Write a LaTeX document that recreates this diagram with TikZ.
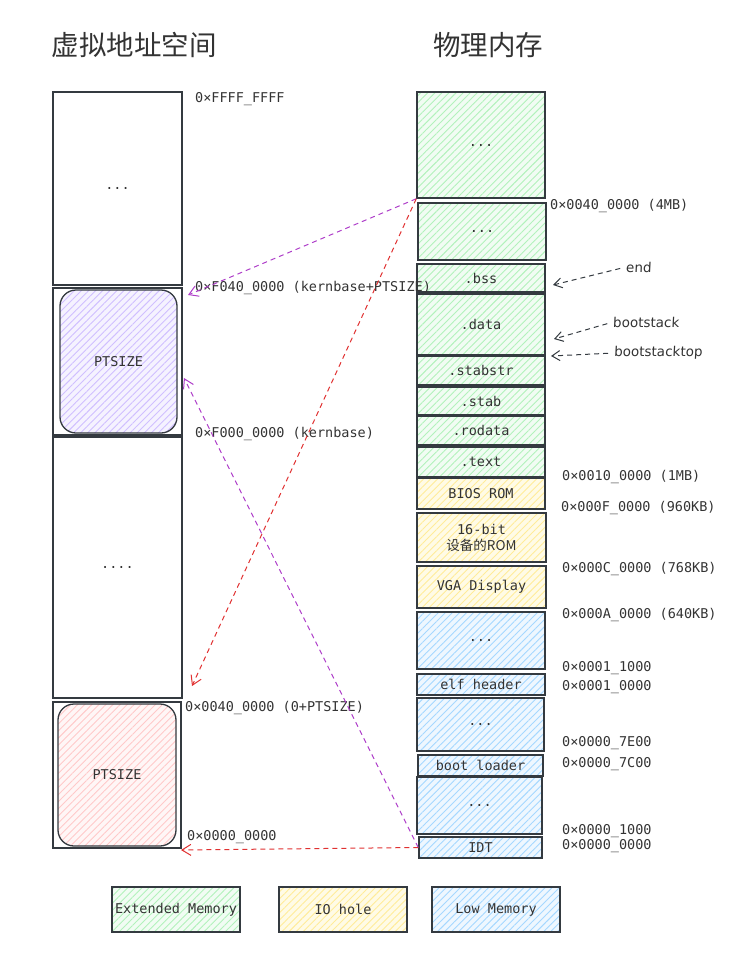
\documentclass[tikz,border=0pt]{standalone}
\usepackage{fontspec}
\setmainfont{DejaVu Sans Mono}
\newfontfamily\cjk{Noto Sans CJK SC}
\newfontfamily\handf{DejaVu Sans}
\usetikzlibrary{patterns.meta,arrows.meta}
\definecolor{linec}{HTML}{343A40}
\definecolor{txtc}{HTML}{333333}
\definecolor{extf}{HTML}{F1FCF3}
\definecolor{exth}{HTML}{B2F2BB}
\definecolor{iof}{HTML}{FFFBE6}
\definecolor{ioh}{HTML}{FFEC99}
\definecolor{lowf}{HTML}{EEF7FF}
\definecolor{lowh}{HTML}{A5D8FF}
\definecolor{purf}{HTML}{F5F2FF}
\definecolor{purh}{HTML}{D0BFFF}
\definecolor{pinkf}{HTML}{FFF6F6}
\definecolor{pinkh}{HTML}{FFC9C9}
\definecolor{purarr}{HTML}{AE3EC9}
\definecolor{redarr}{HTML}{E03131}
\newcommand{\monof}{\fontsize{13.5}{16}\selectfont}
\newcommand{\membx}[7]{\node[#2, minimum width={#5pt-#3pt}, minimum height={#6pt-#4pt}] (#1) at ({(#3+#5)/2},{(#4+#6)/2}) {#7};}
\tikzset{
  box/.style={draw=linec, line width=1.5pt, inner sep=0pt, font=\monof, text=txtc, align=center},
  hatch/.style 2 args={preaction={fill=#1}, pattern={Lines[angle=45,distance=5pt,line width=0.9pt]}, pattern color=#2},
  ext/.style={box, hatch={extf}{exth}},
  iohole/.style={box, hatch={iof}{ioh}},
  low/.style={box, hatch={lowf}{lowh}},
  plain/.style={box, fill=white},
  inner/.style={draw=linec, line width=1.3pt, rounded corners=16pt, inner sep=0pt, font=\monof, text=txtc},
  lab/.style={anchor=west, inner sep=0pt, font=\monof, text=txtc},
  ttl/.style={font=\cjk\fontsize{27.5}{30}\selectfont, text=txtc},
  parr/.style={draw=purarr, line width=1pt, dash pattern=on 5pt off 4pt, -{Straight Barb[length=9pt,width=11pt]}},
  rarr/.style={draw=redarr, line width=1pt, dash pattern=on 5pt off 4pt, -{Straight Barb[length=9pt,width=11pt]}},
  harr/.style={draw=linec, line width=1pt, dash pattern=on 5pt off 4pt, shorten <=6pt, -{Straight Barb[length=8pt,width=10pt]}},
  hand/.style={font=\handf\fontsize{13.5}{15}\selectfont, text=txtc, inner sep=0pt, anchor=west, xslant=0.05},
}
\begin{document}
\begin{tikzpicture}[x=1pt,y=-1pt]
\useasboundingbox (0,0) rectangle (744,959);
% titles
\node[ttl] (t1) at (134,45) {虚拟地址空间};
\node[ttl] (t2) at (488,45) {物理内存};
% left column
\membx{vA}{plain}{53}{92}{182}{285}{...}
\membx{vB}{plain}{53}{288}{182}{435}{}
\node[inner, hatch={purf}{purh}, minimum width=117pt, minimum height=143pt] (vBi) at (118.5,361.5) {PTSIZE};
\membx{vC}{plain}{53}{437}{182}{698}{....}
\membx{vD}{plain}{53}{702}{181}{848}{}
\node[inner, hatch={pinkf}{pinkh}, minimum width=118pt, minimum height=142pt] (vDi) at (117,775) {PTSIZE};
% right column
\membx{r1}{ext}{417}{92}{545}{198}{...}
\membx{r2}{ext}{418}{203}{546}{260}{...}
\membx{bss}{ext}{417}{264}{545}{292}{.bss}
\membx{data}{ext}{417}{294}{545}{355}{.data}
\membx{stabstr}{ext}{417}{356}{545}{385}{.stabstr}
\membx{stab}{ext}{417}{387}{545}{415}{.stab}
\membx{rodata}{ext}{417}{416}{545}{445}{.rodata}
\membx{text}{ext}{417}{447}{545}{477}{.text}
\membx{bios}{iohole}{417}{478}{545}{509}{BIOS ROM}
\membx{rom16}{iohole}{417}{513}{546}{562}{16-bit\\{\cjk 设备的ROM}}
\membx{vga}{iohole}{417}{566}{546}{608}{VGA Display}
\membx{lo1}{low}{417}{612}{545}{669}{...}
\membx{elf}{low}{417}{674}{545}{695}{elf header}
\membx{lo2}{low}{417}{698}{544}{751}{...}
\membx{boot}{low}{418}{755}{543}{776}{boot loader}
\membx{lo3}{low}{417}{777}{542}{834}{...}
\membx{idt}{low}{419}{837}{542}{858}{IDT}
% left labels
\node[lab] (l1) at (195,99) {0×FFFF\_FFFF};
\node[lab] (l2) at (195,288) {0×F040\_0000 (kernbase+PTSIZE)};
\node[lab] (l3) at (195,434) {0×F000\_0000 (kernbase)};
\node[lab] (l4) at (185,708) {0×0040\_0000 (0+PTSIZE)};
\node[lab] (l5) at (187,837) {0×0000\_0000};
% right labels
\node[lab] (p1) at (550,206) {0×0040\_0000 (4MB)};
\node[lab] (p2) at (562,477) {0×0010\_0000 (1MB)};
\node[lab] (p3) at (561,508) {0×000F\_0000 (960KB)};
\node[lab] (p4) at (562,569) {0×000C\_0000 (768KB)};
\node[lab] (p5) at (562,615) {0×000A\_0000 (640KB)};
\node[lab] (p6) at (562,668) {0×0001\_1000};
\node[lab] (p7) at (562,687) {0×0001\_0000};
\node[lab] (p8) at (562,743) {0×0000\_7E00};
\node[lab] (p9) at (562,764) {0×0000\_7C00};
\node[lab] (p10) at (562,831) {0×0000\_1000};
\node[lab] (p11) at (562,846) {0×0000\_0000};
% annotations
\node[hand] (aend) at (626,267) {end};
\node[hand] (astack) at (613,322) {bootstack};
\node[hand] (atop) at (614,353) {bootstacktop};
\coordinate (eE) at (553,285);
\coordinate (sE) at (554,339);
\coordinate (tE) at (551,356);
\draw[harr] (aend.west) -- (eE);
\draw[harr] (astack.west) -- (sE);
\draw[harr] (atop.west) -- (tE);
% mapping arrows
\coordinate (cB1) at (188,295);
\coordinate (cC) at (192,686);
\coordinate (cB2) at (184,378);
\coordinate (cD) at (181,850);
\draw[parr] (r1.south west) -- (cB1);
\draw[rarr] (r1.south west) -- (cC);
\draw[parr] (idt.west) -- (cB2);
\draw[rarr] (idt.west) -- (cD);
% legend
\membx{lgE}{ext}{112}{887}{240}{932}{Extended Memory}
\membx{lgI}{iohole}{279}{887}{407}{932}{IO hole}
\membx{lgL}{low}{432}{887}{560}{932}{Low Memory}
\end{tikzpicture}
\end{document}
